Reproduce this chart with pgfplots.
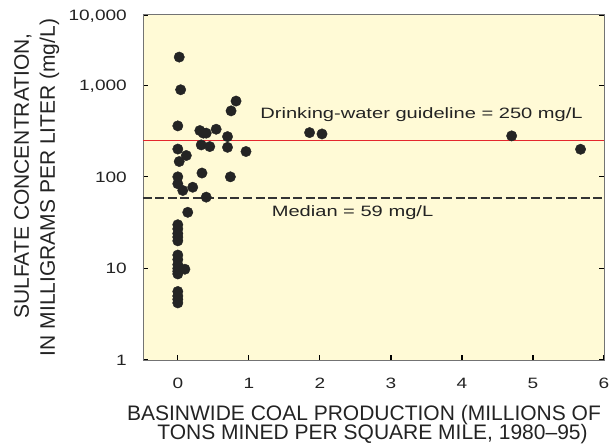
\documentclass[border=0pt]{standalone}
\usepackage{fontspec}
\setmainfont{Liberation Sans}
\usepackage{graphicx}
\usepackage{pgfplots}
\pgfplotsset{compat=1.18}
\definecolor{bgy}{RGB}{255,250,214}
\definecolor{guide}{RGB}{228,38,45}
\definecolor{pt}{RGB}{36,36,36}
\definecolor{txt}{RGB}{35,35,35}
\newcommand{\tl}[1]{\scalebox{1.27}[1]{#1}}
\newcommand{\an}[1]{\scalebox{1.34}[1]{#1}}
\begin{document}
\begin{tikzpicture}
\path[use as bounding box] (-143bp,-86bp) rectangle (469bp,360bp);
\begin{axis}[
  at={(0,0)}, anchor=south west,
  scale only axis, width=461bp, height=345bp,
  xmin=-0.49, xmax=6,
  ymode=log, ymin=1, ymax=5850,
  axis background/.style={fill=bgy},
  axis line style={draw=black!55, line width=1pt},
  xtick={0,1,2,3,4,5,6},
  xticklabels={\tl{0},\tl{1},\tl{2},\tl{3},\tl{4},\tl{5},\tl{6}},
  ytick={1,10,100,1000,5850},
  yticklabels={\tl{1},\tl{10},\tl{100},\tl{1,000},\tl{10,000}},
  minor ytick={}, yminorticks=false,
  xtick pos=left, ytick pos=both,
  tick align=inside, major tick length=5bp,
  tick style={black, line width=1.2pt},
  xticklabel style={font=\fontsize{15bp}{15bp}\selectfont, text=txt, anchor=north, inner sep=0pt, yshift=-18bp},
  yticklabel style={font=\fontsize{15bp}{15bp}\selectfont, text=txt, anchor=base east, inner sep=0pt, xshift=-16bp, yshift=-5.3bp},
]
\addplot[guide, line width=1.5pt] coordinates {(-0.49,250) (6,250)};
\addplot[black!80, line width=1.5pt, dash pattern=on 9bp off 3.5bp] coordinates {(-0.49,59) (6,59)};
\addplot[only marks, mark=*, mark size=5.2bp, mark options={fill=pt, draw=pt}] table {
x y
0.02 2030
0.04 893
0.00 360
0.00 201
0.12 171
0.02 147
0.00 100
0.00 84
0.07 71
0.21 77
0.14 41
0.31 320
0.36 300
0.40 300
0.54 331
0.70 275
0.75 525
0.82 672
0.33 223
0.45 214
0.70 210
0.96 189
0.34 110
0.74 100
0.40 60
0.00 30
0.00 27
0.00 24
0.00 22
0.00 20
0.00 14
0.00 12.5
0.00 11
0.00 10
0.00 9.3
0.00 8.7
0.10 9.8
0.00 5.6
0.00 5.0
0.00 4.6
0.00 4.2
1.855 304
2.03 294
4.70 280
5.67 200
};
\node[anchor=west, inner sep=0pt, text=txt, font=\fontsize{15bp}{15bp}\selectfont] at (axis cs:1.16,474) {\an{Drinking-water guideline = 250 mg/L}};
\node[anchor=west, inner sep=0pt, text=txt, font=\fontsize{15bp}{15bp}\selectfont] at (axis cs:1.32,40.9) {\an{Median = 59 mg/L}};
\end{axis}
\node[anchor=base, inner sep=0pt, text=txt, font=\fontsize{21bp}{21bp}\selectfont] at (221bp,-60bp) {BASINWIDE COAL PRODUCTION (MILLIONS OF};
\node[anchor=base, inner sep=0pt, text=txt, font=\fontsize{21bp}{21bp}\selectfont] at (229.5bp,-79bp) {TONS MINED PER SQUARE MILE, 1980--95)};
\node[anchor=base, rotate=90, inner sep=0pt, text=txt, font=\fontsize{21bp}{21bp}\selectfont] at (-114bp,184bp) {SULFATE CONCENTRATION,};
\node[anchor=base, rotate=90, inner sep=0pt, text=txt, font=\fontsize{21bp}{21bp}\selectfont] at (-88bp,172.5bp) {IN MILLIGRAMS PER LITER (mg/L)};
\end{tikzpicture}
\end{document}
